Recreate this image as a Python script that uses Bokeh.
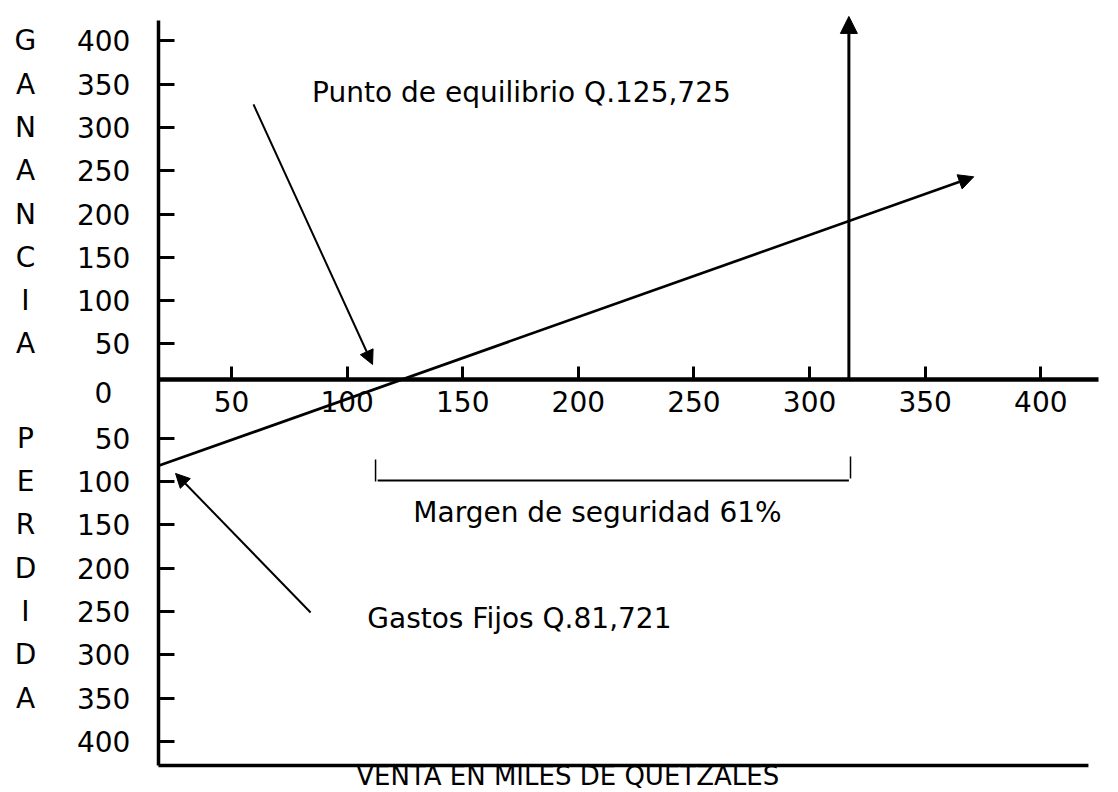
from bokeh.plotting import figure
from bokeh.models import Range1d, LinearAxis, FixedTicker, Arrow, NormalHead
from bokeh.core.properties import value
from bokeh.embed import file_html
from bokeh.resources import INLINE

# ---------------- data (thousands of quetzales) ----------------
x_ticks = [50, 100, 150, 200, 250, 300, 350, 400]
gain_ticks = [400, 350, 300, 250, 200, 150, 100, 50]
loss_ticks = [50, 100, 150, 200, 250, 300, 350, 400]
gain_letters = ["G", "A", "N", "A", "N", "C", "I", "A"]
loss_letters = ["P", "E", "R", "D", "I", "D", "A"]
FIXED_COSTS = 81.721
BREAKEVEN = 125.725
SALES = 317          # position of the sales arrow
LINE_END_SALES = 371  # sales value at the tip of the profit line
LINE_END_GAIN = 243   # gain at the tip of the profit line

x_title = "VENTA EN MILES DE QUETZALES"
label_be = "Punto de equilibrio Q.125,725"
label_fc = "Gastos Fijos Q.81,721"
label_ms = "Margen de seguridad 61%"

# ---------------- layout constants ----------------
GAIN_SHIFT = -9      # drawn offset of the upper scale
LOSS_SHIFT = 18      # drawn offset of the lower scale
AXIS_X = 18.4
AXIS_TOP = 414.5
AXIS_BOTTOM = -445.7
ZERO_END = 425.0
BOTTOM_END = 420.6
FONT = "DejaVu Sans"
FS = "28px"


def gain_y(v):
    return v + GAIN_SHIFT


def loss_y(v):
    return -(v + LOSS_SHIFT)


p = figure(width=1118, height=792,
           x_range=Range1d(-49.9, 433.6), y_range=Range1d(-476.9, 437.6),
           x_axis_type=None, y_axis_type=None,
           output_backend="svg", toolbar_location=None,
           min_border=0, outline_line_color=None,
           background_fill_color="white", border_fill_color="white")

# horizontal (zero) axis with the sales ticks
xaxis = LinearAxis(fixed_location=0, bounds=(AXIS_X, ZERO_END),
                   ticker=FixedTicker(ticks=x_ticks),
                   axis_line_width=4.5, axis_line_color="black",
                   major_tick_in=13, major_tick_out=0,
                   major_tick_line_width=3, major_tick_line_color="black",
                   minor_tick_line_color=None,
                   major_label_standoff=12,
                   major_label_text_font=FONT,
                   major_label_text_font_size=FS,
                   major_label_text_color="black")
p.add_layout(xaxis, "below")

# vertical axis with gain / loss ticks
ytick_pos = [gain_y(v) for v in gain_ticks] + [loss_y(v) for v in loss_ticks]
overrides = {gain_y(v): str(v) for v in gain_ticks}
overrides.update({loss_y(v): str(v) for v in loss_ticks})
yaxis = LinearAxis(fixed_location=AXIS_X, bounds=(AXIS_BOTTOM, AXIS_TOP),
                   ticker=FixedTicker(ticks=ytick_pos),
                   major_label_overrides=overrides,
                   axis_line_width=3.5, axis_line_color="black",
                   major_tick_in=16, major_tick_out=0,
                   major_tick_line_width=3, major_tick_line_color="black",
                   minor_tick_line_color=None,
                   major_label_standoff=28,
                   major_label_text_font=FONT,
                   major_label_text_font_size=FS,
                   major_label_text_color="black")
p.add_layout(yaxis, "left")

# bottom border line
p.segment(x0=[AXIS_X], y0=[AXIS_BOTTOM], x1=[BOTTOM_END], y1=[AXIS_BOTTOM],
          line_width=3.5, line_color="black")

# "0" label between the scales
p.text(x=[-5.4], y=[-15], text=["0"], text_font=value(FONT),
       text_font_size=value(FS), text_align="center", text_baseline="middle",
       text_color="black")

# vertical words GANANCIA / PERDIDA
p.text(x=[-39.1] * len(gain_letters), y=[gain_y(v) for v in gain_ticks],
       text=gain_letters, text_font=value(FONT), text_font_size=value(FS),
       text_align="center", text_baseline="middle", text_color="black")
p.text(x=[-39.1] * len(loss_letters),
       y=[loss_y(v) for v in loss_ticks[:len(loss_letters)]],
       text=loss_letters, text_font=value(FONT), text_font_size=value(FS),
       text_align="center", text_baseline="middle", text_color="black")

# profit line (starts at -fixed costs, ends with an arrow)
p.add_layout(Arrow(end=NormalHead(size=15, fill_color="black", line_color="black"),
                   x_start=AXIS_X, y_start=loss_y(FIXED_COSTS),
                   x_end=LINE_END_SALES, y_end=gain_y(LINE_END_GAIN),
                   line_width=2.7, line_color="black"))

# sales arrow
p.add_layout(Arrow(end=NormalHead(size=17, fill_color="black", line_color="black"),
                   x_start=SALES, y_start=0, x_end=SALES, y_end=419.2,
                   line_width=3, line_color="black"))

# pointer to the break-even point
p.add_layout(Arrow(end=NormalHead(size=14, fill_color="black", line_color="black"),
                   x_start=59.5, y_start=317.6, x_end=111.0, y_end=17.3,
                   line_width=2, line_color="black"))

# pointer to the fixed costs
p.add_layout(Arrow(end=NormalHead(size=14, fill_color="black", line_color="black"),
                   x_start=84.2, y_start=-269, x_end=25.8, y_end=-108.5,
                   line_width=2, line_color="black"))

# safety-margin bracket
p.segment(x0=[113.2, 112.3, SALES + 0.7], y0=[-116.6, -92.4, -88.9],
          x1=[SALES, 112.3, SALES + 0.7], y1=[-116.6, -117.8, -114.3],
          line_width=[2, 1.5, 1.5], line_color="black")

# annotation texts
p.text(x=[175.4, 174.5, 208.3], y=[331.4, -276, -153.6],
       text=[label_be, label_fc, label_ms],
       text_font=value(FONT), text_font_size=value(FS),
       text_align="center", text_baseline="middle", text_color="black")

# horizontal-axis title
p.text(x=[195.4], y=[-458.4], text=[x_title],
       text_font=value(FONT), text_font_size=value("26px"),
       text_align="center", text_baseline="middle", text_color="black")

open("out.html", "w").write(file_html(p, INLINE))
